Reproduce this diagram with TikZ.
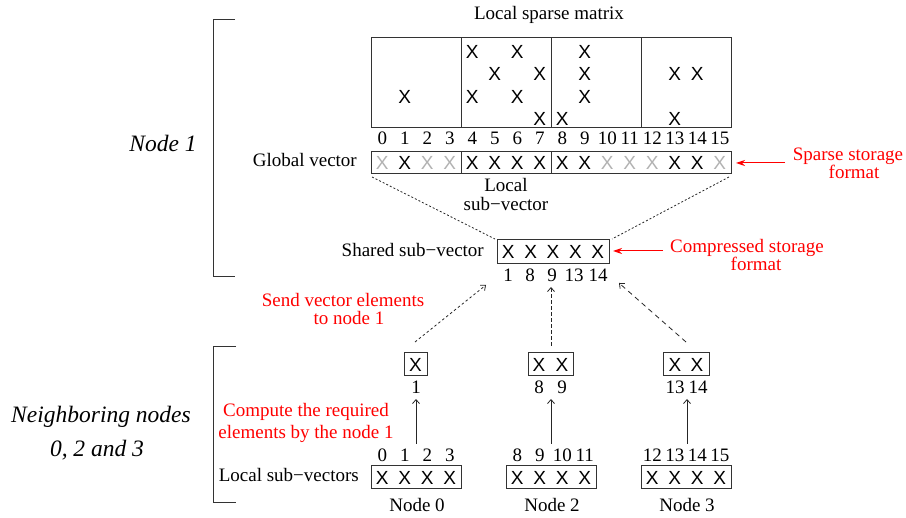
\documentclass[tikz,border=0pt]{standalone}
\usepackage{fontspec}
\setmainfont{Liberation Serif}
\newfontfamily\xfont{Liberation Sans}
\usetikzlibrary{arrows.meta}
\begin{document}
\begin{tikzpicture}[x=1pt,y=-1pt,
  lbl/.style={font=\fontsize{19}{22}\selectfont, inner sep=0pt, anchor=base},
  redlbl/.style={lbl, text=red, align=center},
  ital/.style={font=\fontsize{23.5}{34}\selectfont\itshape, inner sep=0pt, anchor=base, align=center},
  xmark/.style={font=\xfont\fontsize{19}{19}\selectfont, inner sep=0pt},
  xgray/.style={xmark, text=black!30},
  box/.style={draw=black!80, line width=1pt, inner sep=0pt},
  divider/.style={draw=black!80, line width=1pt},
  bracket/.style={draw=black!80, line width=1pt},
  redarrow/.style={red, line width=1pt, -{Stealth[length=9pt,width=6pt]}},
  uparrow/.style={black!85, line width=0.8pt, -{Straight Barb[length=4pt,width=7pt]}},
  darrowA/.style={black!85, line width=0.8pt, dash pattern=on 2.5pt off 2.5pt, -{Straight Barb[length=4pt,width=7pt]}},
  darrowB/.style={black!85, line width=0.8pt, dash pattern=on 3.5pt off 2.5pt, -{Straight Barb[length=4pt,width=7pt]}},
  darrowC/.style={black!85, line width=0.8pt, dash pattern=on 5pt off 4pt, -{Straight Barb[length=4pt,width=7pt]}},
  fan/.style={black!85, line width=0.8pt, dash pattern=on 2pt off 2pt}
]
\useasboundingbox (0,0) rectangle (906,518);

% brackets and group labels
\draw[bracket] (235,20) -- (213,20) -- (213,277) -- (235,277);
\draw[bracket] (236,347) -- (213,347) -- (213,503) -- (236,503);
\node[ital] (n1lab) at (163,152) {Node 1};
\node[ital] (nblab) at (101,457) {Neighboring nodes\\\hspace*{-8pt}0, 2 and 3};

% local sparse matrix
\node[lbl] (mtitle) at (549,20) {Local sparse matrix};
\node[box, minimum width=360pt, minimum height=90pt] (mat) at (551,83) {};
\foreach \xx in {461,551,641} \draw[divider] (\xx,38) -- (\xx,128);
\foreach \c/\r in {4/0,6/0,9/0, 5/1,7/1,9/1,13/1,14/1, 1/2,4/2,6/2,9/2, 7/3,8/3,13/3}
  \node[xmark] (m-\c-\r) at ({382.25+22.5*\c},{51.5+22.5*\r}) {X};

% column indices
\foreach \c in {0,...,15}
  \node[lbl] (gi-\c) at ({382.25+22.5*\c},145) {\c};

% global vector
\node[lbl, anchor=base east] (gvlab) at (357,167) {Global vector};
\node[box, minimum width=360pt, minimum height=22pt] (gv) at (551,162.5) {};
\foreach \xx in {461,551} \draw[divider] (\xx,151.5) -- (\xx,173.5);
\foreach \c in {1,4,5,6,7,8,9,13,14}
  \node[xmark] (gx-\c) at ({382.25+22.5*\c},163) {X};
\foreach \c in {0,2,3,10,11,12,15}
  \node[xgray] (gx-\c) at ({382.25+22.5*\c},163) {X};
\node[lbl, align=center, font=\fontsize{19}{19}\selectfont] (lsv) at (506,211) {Local\\sub−vector};

% sparse storage format
\node[redlbl, font=\fontsize{19}{17}\selectfont] (ssf) at (848,179) {Sparse storage\\\hspace*{12pt}format};
\coordinate (ssfs) at (785,163);
\coordinate (ssft) at (736,163);
\draw[redarrow] (ssfs) -- (ssft);

% shared sub-vector
\node[lbl, anchor=base east] (shlab) at (484,257) {Shared sub−vector};
\node[box, minimum width=112pt, minimum height=24pt] (sh) at (553,252) {};
\foreach \i in {0,...,4}
  \node[xmark] (sx-\i) at ({508.2+22.4*\i},252) {X};
\foreach \i/\t/\xx in {0/1/508,1/8/530,2/9/552,3/13/574,4/14/598}
  \node[lbl] (si-\i) at (\xx,282) {\t};
\coordinate (gvbl) at (372,177);
\coordinate (gvbr) at (729,177);
\coordinate (shtl) at (495,239);
\coordinate (shtr) at (612,239);
\draw[fan] (gvbl) -- (shtl);
\draw[fan] (gvbr) -- (shtr);

% compressed storage format
\node[redlbl, font=\fontsize{19}{18}\selectfont] (csf) at (747,271) {Compressed storage\\\hspace*{18pt}format};
\coordinate (csfs) at (663,251);
\coordinate (csft) at (613,251);
\draw[redarrow] (csfs) -- (csft);

% send label
\node[redlbl, font=\fontsize{19}{18}\selectfont] (send) at (343,325) {Send vector elements\\\hspace*{12pt}to node 1};

% dashed arrows
\coordinate (a0s) at (415,342); \coordinate (a0e) at (486,285);
\coordinate (a2s) at (551,346); \coordinate (a2e) at (551,287);
\coordinate (a3s) at (686,342); \coordinate (a3e) at (619,283);
\draw[darrowA] (a0s) -- (a0e);
\draw[darrowB] (a2s) -- (a2e);
\draw[darrowC] (a3s) -- (a3e);

% small boxes
\node[box, minimum width=23pt, minimum height=23pt] (sb0) at (415.5,364.5) {};
\node[xmark] (sb0x) at (415.5,365) {X};
\node[lbl] (sb0i) at (416,394) {1};
\node[box, minimum width=45pt, minimum height=23pt] (sb2) at (550.5,364.5) {};
\node[xmark] (sb2x1) at (539,365) {X};
\node[xmark] (sb2x2) at (562,365) {X};
\node[lbl] (sb2i1) at (539,394) {8};
\node[lbl] (sb2i2) at (562,394) {9};
\node[box, minimum width=46pt, minimum height=23pt] (sb3) at (686,364.5) {};
\node[xmark] (sb3x1) at (675,365) {X};
\node[xmark] (sb3x2) at (697,365) {X};
\node[lbl] (sb3i1) at (675,394) {13};
\node[lbl] (sb3i2) at (698,394) {14};

% compute label
\node[redlbl, font=\fontsize{19}{22}\selectfont] (comp) at (306,439) {Compute the required\\elements by the node 1};

% solid up arrows
\coordinate (u0s) at (416,444); \coordinate (u0e) at (416,399);
\coordinate (u2s) at (551,444); \coordinate (u2e) at (551,399);
\coordinate (u3s) at (687,444); \coordinate (u3e) at (687,399);
\draw[uparrow] (u0s) -- (u0e);
\draw[uparrow] (u2s) -- (u2e);
\draw[uparrow] (u3s) -- (u3e);

% local sub-vectors
\node[lbl, anchor=base east] (lsvlab) at (359,482) {Local sub−vectors};
\foreach \n/\xl/\start in {0/371/0, 2/506/8, 3/641/12} {
  \node[box, minimum width=90pt, minimum height=23pt] (lb-\n) at ({\xl+45},477.5) {};
  \foreach \k in {0,...,3} {
    \pgfmathtruncatemacro\idx{\start+\k}
    \node[xmark] (lx-\n-\k) at ({\xl+11.25+22.5*\k},478) {X};
    \node[lbl] (li-\n-\k) at ({\xl+11.25+22.5*\k},462) {\idx};
  }
  \node[lbl] (nl-\n) at ({\xl+46},512) {Node \n};
}
\end{tikzpicture}
\end{document}
